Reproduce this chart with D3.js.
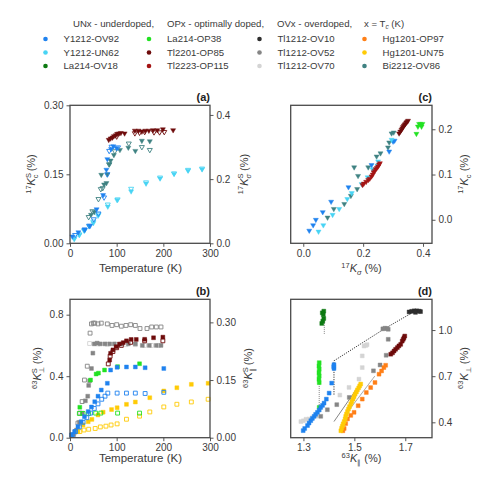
<!DOCTYPE html>
<html>
<head>
<meta charset="utf-8">
<script src="https://cdn.jsdelivr.net/npm/d3@7"></script>
<style>
  body { margin: 0; background: #fff; }
  text { font-family: "Liberation Sans", Arial, sans-serif; }
</style>
</head>
<body>
<svg id="fig" width="493" height="485"></svg>
<script>
// ---- legend ----
const legendNames = [
  'Y1212-OV92', 'Y1212-UN62', 'La214-OV18',
  'La214-OP38', 'Tl2201-OP85', 'Tl2223-OP115',
  'Tl1212-OV10', 'Tl1212-OV52', 'Tl1212-OV70',
  'Hg1201-OP97', 'Hg1201-UN75', 'Bi2212-OV86'
];
const legendColors = [
  '#1f82ef', '#48d4f4', '#0d7a12',
  '#22e222', '#6e0b0b', '#a41414',
  '#2e2e2e', '#858585', '#d4d4d4',
  '#ff7f16', '#ffcb05', '#3f8282'
];
const col = name => legendColors[legendNames.indexOf(name)];

// ---- panel (a): T (K) vs 17K^S_c (filled, left) and 17K^S_sigma (open, right) ----
const aTemp = [0, 100, 200, 300];
const aBlueFill = [[5,0.015],[18,0.024],[32,0.030],[43,0.038],[57,0.074],[71,0.105],[78,0.160],[80,0.183],[88,0.205],[93,0.211],[100,0.207]];
const aBlueOpen = [[11,0.026],[31,0.043],[41,0.055],[51,0.075],[61,0.093],[73,0.143],[80,0.215],[84,0.288],[89,0.301],[103,0.299]];
const aCyanFill = [[9,0.009],[20,0.018],[30,0.028],[41,0.037],[50,0.044],[60,0.060],[81,0.080],[101,0.094],[131,0.113],[163,0.130],[193,0.141],[223,0.151],[253,0.158],[283,0.161]];
const aCyanOpen = [[10,0.018],[20,0.028],[31,0.040],[50,0.068],[61,0.090],[81,0.121],[102,0.137],[131,0.170],[163,0.190],[193,0.205],[223,0.218],[253,0.229],[283,0.233]];
const aTealFill = [[45,0.062],[52,0.068],[67,0.149],[73,0.128],[78,0.131],[80,0.150],[84,0.172],[87,0.180],[94,0.192],[107,0.203],[125,0.208],[140,0.201],[154,0.223],[171,0.222]];
const aTealOpen = [[40,0.082],[48,0.100],[61,0.138],[66,0.169],[70,0.172],[84,0.246],[96,0.287],[126,0.311],[154,0.300],[171,0.291]];
const aMaroonFill = [[83,0.225],[87,0.228],[91,0.230],[94,0.233],[98,0.235],[101,0.238],[105,0.239],[109,0.240],[117,0.239],[139,0.245],[147,0.245],[154,0.243],[161,0.245],[169,0.245],[178,0.246],[187,0.246],[199,0.248],[221,0.246]];
const aMaroonOpen = [[100,0.333],[139,0.343],[149,0.345],[160,0.347],[180,0.346],[192,0.346],[202,0.347]];

// ---- panel (b): T (K) vs 63K^S_perp (filled, left) and 63K^S_par (open, right) ----
const bGrayFill = [[8,0.02],[14,0.05],[20,0.10],[26,0.16],[33,0.24],[38,0.27],[40,0.34],[42,0.37],[46,0.45],[49,0.55],[52,0.61],[58,0.615],[65,0.61],[75,0.61],[85,0.61],[95,0.61],[110,0.61],[125,0.61],[140,0.61],[155,0.60],[170,0.60],[185,0.60],[195,0.60]];
const bGrayOpen = [[11,0.015],[17,0.038],[21,0.064],[26,0.094],[31,0.150],[37,0.186],[43,0.272],[46,0.296],[50,0.298],[53,0.298],[60,0.296],[67,0.298],[80,0.296],[90,0.292],[100,0.294],[110,0.290],[120,0.292],[130,0.294],[140,0.292],[150,0.284],[165,0.284],[175,0.288],[185,0.288],[195,0.288]];
const bLightOpen = [[42,0.245],[60,0.244],[80,0.243],[100,0.243],[120,0.242],[140,0.242],[160,0.240],[175,0.240],[190,0.240]];
const bMaroonFill = [[85,0.505],[87,0.549],[92,0.571],[99,0.592],[106,0.609],[114,0.618],[121,0.630],[131,0.639],[142,0.639],[160,0.640],[179,0.650],[199,0.654]];
const bMaroonOpen = [[82,0.192],[86,0.212],[92,0.224],[100,0.234],[110,0.240],[130,0.248],[160,0.252],[199,0.252]];
const bGreenFill = [[21,0.198],[44,0.375],[56,0.414],[61,0.420],[74,0.440],[102,0.462],[149,0.481]];
const bGreenOpen = [[20,0.063],[28,0.063],[40,0.063],[55,0.064],[66,0.064],[102,0.064],[149,0.064]];
const bBlueFill = [[3,0.018],[10,0.040],[17,0.072],[24,0.104],[31,0.137],[39,0.170],[46,0.200],[53,0.234],[60,0.270],[67,0.310],[80,0.354],[87,0.440],[101,0.458],[121,0.460],[140,0.460],[161,0.455],[201,0.450]];
const bBlueOpen = [[5,0.008],[12,0.016],[20,0.028],[28,0.040],[36,0.052],[44,0.064],[52,0.076],[60,0.088],[68,0.100],[75,0.108],[81,0.116],[101,0.116],[121,0.116],[140,0.116],[161,0.115],[201,0.118]];
const bYellowFill = [[17,0.039],[28,0.083],[39,0.104],[47,0.119],[60,0.148],[71,0.166],[89,0.183],[101,0.195],[121,0.217],[140,0.232],[171,0.260],[201,0.304],[229,0.325],[260,0.347],[296,0.354]];
const bYellowOpen = [[21,0.016],[30,0.020],[40,0.022],[54,0.024],[65,0.028],[77,0.030],[88,0.033],[101,0.036],[121,0.048],[149,0.056],[171,0.067],[201,0.080],[229,0.087],[260,0.093],[296,0.100]];

// ---- panel (c): 17K_sigma vs 17K_c ----
const cBlue = [[0.020,-0.024],[0.033,-0.012],[0.042,0.0],[0.065,0.017],[0.093,0.040],[0.151,0.072],[0.228,0.121],[0.287,0.151],[0.300,0.173],[0.305,0.175]];
const cCyan = [[0.051,-0.026],[0.067,-0.012],[0.098,0.011],[0.120,0.024],[0.147,0.046],[0.162,0.059],[0.195,0.079],[0.215,0.094],[0.231,0.112],[0.250,0.129],[0.248,0.120],[0.295,0.177]];
const cTeal = [[0.081,0.005],[0.102,0.024],[0.137,0.035],[0.159,0.053],[0.180,0.068],[0.170,0.116],[0.183,0.097],[0.217,0.116],[0.245,0.140],[0.258,0.147],[0.283,0.160],[0.287,0.171],[0.295,0.191],[0.302,0.193]];
const cRed = [[0.198,0.077],[0.202,0.080],[0.210,0.084],[0.217,0.088],[0.222,0.091],[0.228,0.096],[0.232,0.100],[0.235,0.105],[0.239,0.108],[0.242,0.112],[0.246,0.115],[0.250,0.118],[0.253,0.122],[0.256,0.125]];
const cMaroon = [[0.320,0.191],[0.324,0.195],[0.328,0.199],[0.331,0.202],[0.333,0.205],[0.336,0.208],[0.339,0.210],[0.341,0.212],[0.344,0.215],[0.347,0.217],[0.350,0.219]];
const cGreen = [[0.378,0.190],[0.383,0.206],[0.387,0.212],[0.392,0.212],[0.395,0.206],[0.398,0.212]];

// ---- panel (d): 63K_par vs 63K_perp ----
const dDarkGreen = [[1.374,1.112],[1.380,1.123],[1.376,1.058],[1.372,1.043],[1.378,1.100],[1.380,1.075]];
const dGreen = [[1.362,0.788],[1.361,0.766],[1.362,0.745],[1.361,0.723],[1.362,0.702],[1.361,0.680],[1.362,0.658],[1.362,0.497]];
const dBlue = [[1.299,0.346],[1.305,0.360],[1.316,0.379],[1.322,0.395],[1.329,0.411],[1.335,0.425],[1.342,0.439],[1.348,0.452],[1.355,0.465],[1.362,0.480],[1.368,0.497],[1.375,0.510],[1.381,0.525],[1.390,0.551],[1.401,0.590],[1.411,0.655],[1.420,0.750],[1.419,0.762],[1.420,0.775]];
const dGray = [[1.612,1.008],[1.620,1.012],[1.628,1.010],[1.633,1.005],[1.633,0.940],[1.625,0.836],[1.601,0.773],[1.575,0.735],[1.480,0.562],[1.431,0.515],[1.394,0.482],[1.368,0.439]];
const dBlack = [[1.715,1.118],[1.725,1.122],[1.735,1.125],[1.745,1.125],[1.755,1.123],[1.760,1.120],[1.740,1.115]];
const dLight = [[1.290,0.405],[1.300,0.410],[1.310,0.420],[1.322,0.422],[1.335,0.430],[1.350,0.440],[1.443,0.577],[1.479,0.627],[1.518,0.681],[1.531,0.756],[1.531,0.832],[1.538,0.896],[1.545,0.900],[1.550,0.905]];
const dOrange = [[1.455,0.345],[1.460,0.360],[1.466,0.392],[1.473,0.422],[1.486,0.445],[1.499,0.465],[1.515,0.508],[1.531,0.551],[1.547,0.594],[1.564,0.626],[1.581,0.659],[1.597,0.713],[1.607,0.734],[1.616,0.756],[1.623,0.771]];
const dYellow = [[1.447,0.345],[1.450,0.361],[1.453,0.375],[1.456,0.390],[1.460,0.405],[1.464,0.422],[1.466,0.438],[1.469,0.454],[1.473,0.470],[1.477,0.486],[1.481,0.502],[1.486,0.519],[1.490,0.535],[1.495,0.551],[1.499,0.567],[1.503,0.583],[1.508,0.597],[1.512,0.611],[1.517,0.624],[1.521,0.637],[1.525,0.649]];
const dMaroon = [[1.643,0.843],[1.650,0.852],[1.656,0.864],[1.662,0.875],[1.669,0.886],[1.675,0.897],[1.682,0.907],[1.688,0.928],[1.692,0.940],[1.695,0.950],[1.698,0.961]];
const dLineBlack = [[1.42,0.58],[1.42,0.80],[1.62,1.01],[1.735,1.12]];
const dLineGreen = [[1.362,0.50],[1.362,0.66]];
const dLineDarkGreen = [[1.382,0.975],[1.382,1.125]];
const dLineYellow = [[1.42,0.405],[1.51,0.62]];
const dLineOrange = [[1.475,0.47],[1.58,0.70]];

const svg = d3.select('#fig');
const TXT = '#3a3a3a';

// legend
const header = svg.append('g');
[['UNx - underdoped,', 73], ['OPx - optimally doped,', 167], ['OVx - overdoped,', 277]].forEach(([t, x]) => {
  header.append('text').attr('x', x).attr('y', 27).attr('fill', TXT).style('font-size', '9.6px').text(t);
});
const hx = header.append('text').attr('x', 364).attr('y', 27).attr('fill', TXT).style('font-size', '9.6px');
hx.append('tspan').text('x = T');
hx.append('tspan').text('c').attr('dy', 2.2).style('font-size', '6.5px').style('font-style', 'italic');
hx.append('tspan').text(' (K)').attr('dy', -2.2);

const legX = [45.5, 149, 259.5, 364.5];
const legY = [39, 52.5, 66];
legendNames.forEach((n, i) => {
  const c = Math.floor(i / 3), r = i % 3;
  svg.append('circle').attr('cx', legX[c]).attr('cy', legY[r]).attr('r', 2.3).attr('fill', legendColors[i]);
  svg.append('text').attr('x', legX[c] + 18).attr('y', legY[r] + 3.4).attr('fill', TXT).style('font-size', '9.6px').text(n);
});

// helpers
function rich(x, y, rot, anchor, parts, size) {
  const t = svg.append('text')
    .attr('transform', `translate(${x},${y}) rotate(${rot})`)
    .attr('text-anchor', anchor).attr('fill', TXT).style('font-size', size + 'px');
  let cur = 0;
  parts.forEach(p => {
    const off = p.sup ? -size * 0.4 : p.sub ? size * 0.28 : 0;
    const ts = t.append('tspan').text(p.t).attr('dy', off - cur);
    if (p.back) ts.attr('dx', -p.back);
    if (p.sup || p.sub) ts.style('font-size', (size * 0.68) + 'px');
    if (p.it) ts.style('font-style', 'italic');
    cur = off;
  });
}

function styleAxis(g) {
  g.select('.domain').remove();
  g.selectAll('line').attr('stroke', '#444').attr('stroke-width', 0.9);
  g.selectAll('text').attr('fill', TXT).style('font-size', '10px');
}

function frame(x0, x1, y0, y1) {
  svg.append('rect').attr('x', x0).attr('y', y0).attr('width', x1 - x0).attr('height', y1 - y0)
    .attr('fill', 'none').attr('stroke', '#4a4a4a').attr('stroke-width', 1.3);
}

const tri = d3.symbol(d3.symbolTriangle, 11);
const sq = d3.symbol(d3.symbolSquare, 15);

function marks(data, xs, ys, shape, color, open) {
  const down = shape === 'tri';
  svg.append('g').selectAll('path').data(data).join('path')
    .attr('transform', d => `translate(${xs(d[0])},${ys(d[1])})${down ? ' rotate(180)' : ''}`)
    .attr('d', down ? tri : sq)
    .attr('fill', open ? 'none' : color)
    .attr('stroke', color)
    .attr('stroke-opacity', open ? 1 : 0.55)
    .attr('stroke-width', open ? 0.9 : 0.8);
}

function dline(pts, xs, ys, color, dash, w) {
  svg.append('path').datum(pts)
    .attr('d', d3.line().x(d => xs(d[0])).y(d => ys(d[1])))
    .attr('fill', 'none').attr('stroke', color).attr('stroke-width', w || 0.9)
    .attr('stroke-dasharray', dash);
}

// ---------- panel (a) ----------
const ax = d3.scaleLinear().domain([0, 300]).range([70, 210]);
const ayL = d3.scaleLinear().domain([0, 0.30]).range([243.3, 105.3]);
const ayR = d3.scaleLinear().domain([0, 0.43]).range([243.3, 105.3]);

marks(aCyanOpen, ax, ayR, 'tri', col('Y1212-UN62'), true);
marks(aCyanFill, ax, ayL, 'tri', col('Y1212-UN62'), false);
marks(aTealOpen, ax, ayR, 'tri', col('Bi2212-OV86'), true);
marks(aTealFill, ax, ayL, 'tri', col('Bi2212-OV86'), false);
marks(aBlueOpen, ax, ayR, 'tri', col('Y1212-OV92'), true);
marks(aBlueFill, ax, ayL, 'tri', col('Y1212-OV92'), false);
marks(aMaroonOpen, ax, ayR, 'tri', col('Tl2201-OP85'), true);
marks(aMaroonFill, ax, ayL, 'tri', col('Tl2201-OP85'), false);

svg.append('g').attr('transform', 'translate(0,243.3)')
  .call(d3.axisBottom(ax).tickValues(aTemp).tickSize(3.5).tickPadding(3)).call(styleAxis);
svg.append('g').attr('transform', 'translate(70,0)')
  .call(d3.axisLeft(ayL).tickValues([0, 0.15, 0.30]).tickFormat(d3.format('.2f')).tickSize(3.5).tickPadding(3)).call(styleAxis);
svg.append('g').attr('transform', 'translate(210,0)')
  .call(d3.axisRight(ayR).tickValues([0, 0.2, 0.4]).tickFormat(d3.format('.1f')).tickSize(3.5).tickPadding(3)).call(styleAxis);
frame(70, 210, 105.3, 243.3);

// ---------- panel (b) ----------
const bx = d3.scaleLinear().domain([0, 300]).range([70, 210]);
const byL = d3.scaleLinear().domain([0, 0.9]).range([437.7, 299.3]);
const byR = d3.scaleLinear().domain([0, 0.36]).range([437.7, 299.3]);

marks(bLightOpen, bx, byR, 'sq', col('Tl1212-OV70'), true);
marks(bGrayOpen, bx, byR, 'sq', col('Tl1212-OV52'), true);
marks(bGrayFill, bx, byL, 'sq', col('Tl1212-OV52'), false);
marks(bYellowOpen, bx, byR, 'sq', col('Hg1201-UN75'), true);
marks(bYellowFill, bx, byL, 'sq', col('Hg1201-UN75'), false);
marks(bGreenOpen, bx, byR, 'sq', col('La214-OP38'), true);
marks(bGreenFill, bx, byL, 'sq', col('La214-OP38'), false);
marks(bBlueOpen, bx, byR, 'sq', col('Y1212-OV92'), true);
marks(bBlueFill, bx, byL, 'sq', col('Y1212-OV92'), false);
marks(bMaroonOpen, bx, byR, 'sq', col('Tl2201-OP85'), true);
marks(bMaroonFill, bx, byL, 'sq', col('Tl2201-OP85'), false);

svg.append('g').attr('transform', 'translate(0,437.7)')
  .call(d3.axisBottom(bx).tickValues(aTemp).tickSize(3.5).tickPadding(3)).call(styleAxis);
svg.append('g').attr('transform', 'translate(70,0)')
  .call(d3.axisLeft(byL).tickValues([0, 0.4, 0.8]).tickFormat(d3.format('.1f')).tickSize(3.5).tickPadding(3)).call(styleAxis);
svg.append('g').attr('transform', 'translate(210,0)')
  .call(d3.axisRight(byR).tickValues([0, 0.15, 0.30]).tickFormat(d3.format('.2f')).tickSize(3.5).tickPadding(3)).call(styleAxis);
frame(70, 210, 299.3, 437.7);

// ---------- panel (c) ----------
const cx = d3.scaleLinear().domain([-0.042, 0.43]).range([290.7, 432]);
const cy = d3.scaleLinear().domain([-0.052, 0.253]).range([243.3, 105.3]);

marks(cTeal, cx, cy, 'tri', col('Bi2212-OV86'), false);
marks(cBlue, cx, cy, 'tri', col('Y1212-OV92'), false);
marks(cCyan, cx, cy, 'tri', col('Y1212-UN62'), false);
marks(cRed, cx, cy, 'tri', col('Tl2223-OP115'), false);
marks(cMaroon, cx, cy, 'tri', col('Tl2201-OP85'), false);
marks(cGreen, cx, cy, 'tri', col('La214-OP38'), false);

svg.append('g').attr('transform', 'translate(0,243.3)')
  .call(d3.axisBottom(cx).tickValues([0, 0.2, 0.4]).tickFormat(d3.format('.1f')).tickSize(3.5).tickPadding(3)).call(styleAxis);
svg.append('g').attr('transform', 'translate(432,0)')
  .call(d3.axisRight(cy).tickValues([0, 0.1, 0.2]).tickFormat(d3.format('.1f')).tickSize(3.5).tickPadding(3)).call(styleAxis);
frame(290.7, 432, 105.3, 243.3);

// ---------- panel (d) ----------
const dx = d3.scaleLinear().domain([1.25, 1.805]).range([290.7, 432]);
const dy = d3.scaleLinear().domain([0.30, 1.20]).range([437.7, 299.3]);

dline(dLineBlack, dx, dy, '#222', '1.2,1.2', 0.9);
dline(dLineGreen, dx, dy, '#777', '1,1', 0.9);
dline(dLineDarkGreen, dx, dy, '#777', '1,1', 0.9);
dline(dLineYellow, dx, dy, '#333', null, 0.6);
dline(dLineOrange, dx, dy, '#333', '1.5,1', 0.7);

marks(dLight, dx, dy, 'sq', col('Tl1212-OV70'), false);
marks(dGray, dx, dy, 'sq', col('Tl1212-OV52'), false);
marks(dBlack, dx, dy, 'sq', col('Tl1212-OV10'), false);
marks(dDarkGreen, dx, dy, 'sq', col('La214-OV18'), false);
marks(dGreen, dx, dy, 'sq', col('La214-OP38'), false);
marks(dBlue, dx, dy, 'sq', col('Y1212-OV92'), false);
marks(dOrange, dx, dy, 'sq', col('Hg1201-OP97'), false);
marks(dYellow, dx, dy, 'sq', col('Hg1201-UN75'), false);
marks(dMaroon, dx, dy, 'sq', col('Tl2201-OP85'), false);

svg.append('g').attr('transform', 'translate(0,437.7)')
  .call(d3.axisBottom(dx).tickValues([1.3, 1.5, 1.7]).tickFormat(d3.format('.1f')).tickSize(3.5).tickPadding(3)).call(styleAxis);
svg.append('g').attr('transform', 'translate(432,0)')
  .call(d3.axisRight(dy).tickValues([0.4, 0.7, 1.0]).tickFormat(d3.format('.1f')).tickSize(3.5).tickPadding(3)).call(styleAxis);
frame(290.7, 432, 299.3, 437.7);

// ---------- labels ----------
[['(a)', 210, 101], ['(c)', 432, 101], ['(b)', 210, 295], ['(d)', 432, 295]].forEach(([t, x, y]) => {
  svg.append('text').attr('x', x).attr('y', y).attr('text-anchor', 'end')
    .attr('fill', '#222').style('font-size', '11px').style('font-weight', 'bold').text(t);
});

svg.append('text').attr('x', 140.5).attr('y', 272).attr('text-anchor', 'middle')
  .attr('fill', TXT).style('font-size', '11.5px').text('Temperature (K)');
svg.append('text').attr('x', 140.5).attr('y', 462).attr('text-anchor', 'middle')
  .attr('fill', TXT).style('font-size', '11.5px').text('Temperature (K)');

const P = (t, o) => Object.assign({ t }, o || {});
const LS = 11;
rich(35, 174, -90, 'middle', [P('17', { sup: 1 }), P('K', { it: 1 }), P('S', { sup: 1 }), P('c', { sub: 1, back: 5 }), P(' (%)')], LS);
rich(247.5, 174, -90, 'middle', [P('17', { sup: 1 }), P('K', { it: 1 }), P('S', { sup: 1 }), P('σ', { sub: 1, back: 5, it: 1 }), P(' (%)')], LS);
rich(41, 368, -90, 'middle', [P('63', { sup: 1 }), P('K', { it: 1 }), P('S', { sup: 1 }), P('⊥', { sub: 1, back: 5 }), P(' (%)')], LS);
rich(252, 368, -90, 'middle', [P('63', { sup: 1 }), P('K', { it: 1 }), P('S', { sup: 1 }), P('∥', { sub: 1, back: 5 }), P(' (%)')], LS);
rich(467.5, 174, -90, 'middle', [P('17', { sup: 1 }), P('K', { it: 1 }), P('c', { sub: 1 }), P(' (%)')], LS);
rich(467.5, 368, -90, 'middle', [P('63', { sup: 1 }), P('K', { it: 1 }), P('⊥', { sub: 1 }), P(' (%)')], LS);
rich(361.5, 272, 0, 'middle', [P('17', { sup: 1 }), P('K', { it: 1 }), P('σ', { sub: 1, it: 1 }), P(' (%)')], LS);
rich(361.5, 462, 0, 'middle', [P('63', { sup: 1 }), P('K', { it: 1 }), P('∥', { sub: 1 }), P(' (%)')], LS);
</script>
</body>
</html>
